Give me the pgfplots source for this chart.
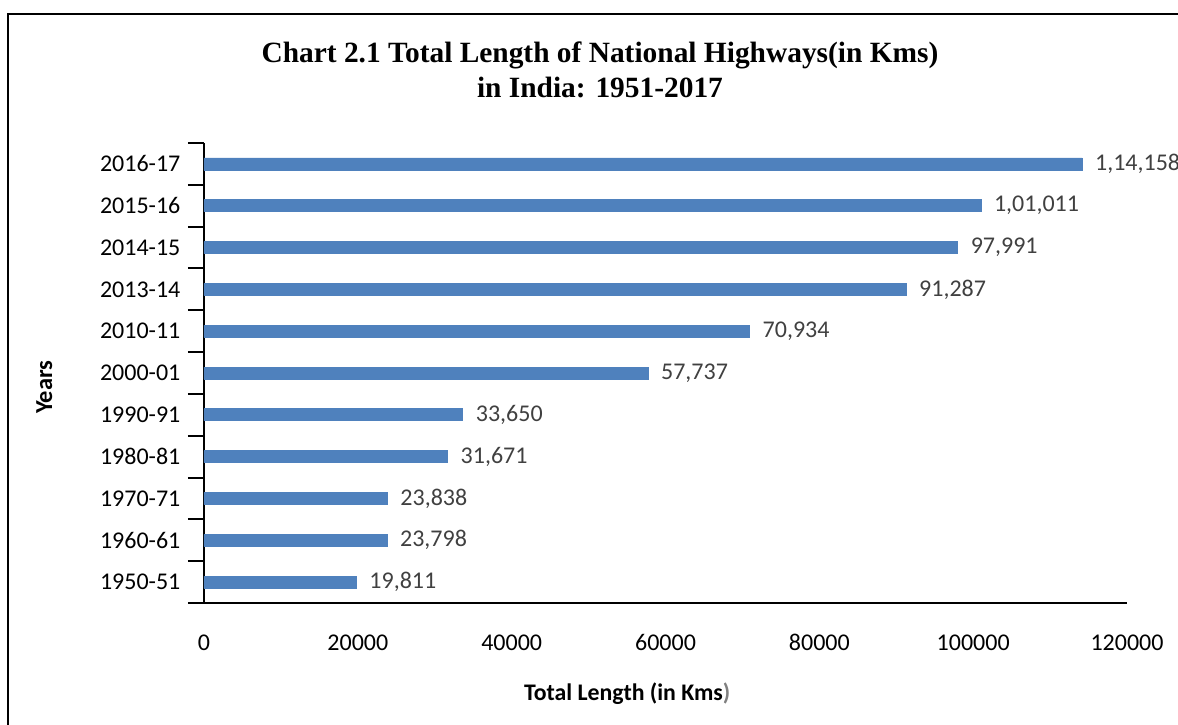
\documentclass[border=0pt]{standalone}
\usepackage{pgfplots}
\pgfplotsset{compat=1.18}
\usepackage{pgfplotstable}
\usepackage{fontspec}
\setmainfont{Carlito}
\newfontfamily\titlefont{Liberation Serif}
\definecolor{barblue}{HTML}{4F81BD}
\definecolor{lblgray}{HTML}{404040}
\pgfplotstableread{
y value label
0 19811 19,811
1 23798 23,798
2 23838 23,838
3 31671 31,671
4 33650 33,650
5 57737 57,737
6 70934 70,934
7 91287 91,287
8 97991 97,991
9 101011 1,01,011
10 114158 1,14,158
}\datatable
\begin{document}
\begin{tikzpicture}[x=0.5pt,y=0.5pt]
\useasboundingbox (-204,-121) rectangle (974,603);
\draw[line width=1pt] (-196,-125) -- (-196,589) -- (980,589);
\node[font=\titlefont\bfseries\fontsize{14.7}{17.6}\selectfont,align=center] at (396,533)
  {Chart 2.1 Total Length of National Highways(in Kms)\\in India: 1951-2017};
\begin{axis}[
  at={(0,0)}, anchor=south west,
  scale only axis, width=461.5pt, height=230pt,
  xbar, bar width=6pt,
  xmin=0, xmax=120000, ymin=-0.5, ymax=10.5,
  axis x line*=bottom, axis y line*=left,
  axis line style={line width=1pt},
  xtick={0,20000,40000,60000,80000,100000,120000},
  xticklabels={0,20000,40000,60000,80000,100000,120000},
  scaled x ticks=false,
  major x tick style={draw=none},
  xticklabel style={font=\fontsize{12}{14}\selectfont, text height=8pt, text depth=0pt, yshift=-8pt},
  ytick={0,...,10},
  yticklabels={1950-51,1960-61,1970-71,1980-81,1990-91,2000-01,2010-11,2013-14,2014-15,2015-16,2016-17},
  major y tick style={draw=none},
  minor ytick={-0.5,0.5,...,10.5},
  minor tick length=8pt,
  minor y tick style={line width=1pt, black},
  tick align=outside,
  yticklabel style={font=\fontsize{12}{14}\selectfont, xshift=-4pt},
  xlabel={\bfseries Total Length (in Kms\textcolor{gray}{)}},
  every axis x label/.style={at={(axis description cs:0.4585,0)}, anchor=center, yshift=-45.5pt, font=\fontsize{11.9}{14}\selectfont},
  ylabel={\bfseries Years},
  every axis y label/.style={at={(axis description cs:-0.173,0.469)}, anchor=center, rotate=90, font=\fontsize{12.2}{14}\selectfont},
  nodes near coords={\pgfplotspointmeta},
  point meta=explicit symbolic,
  every node near coord/.append style={font=\fontsize{12}{14}\selectfont, text=lblgray, anchor=west, xshift=3pt},
  clip=false,
]
\addplot[fill=barblue, draw=barblue] table[x=value, y=y, meta=label] {\datatable};
\end{axis}
\end{tikzpicture}
\end{document}
